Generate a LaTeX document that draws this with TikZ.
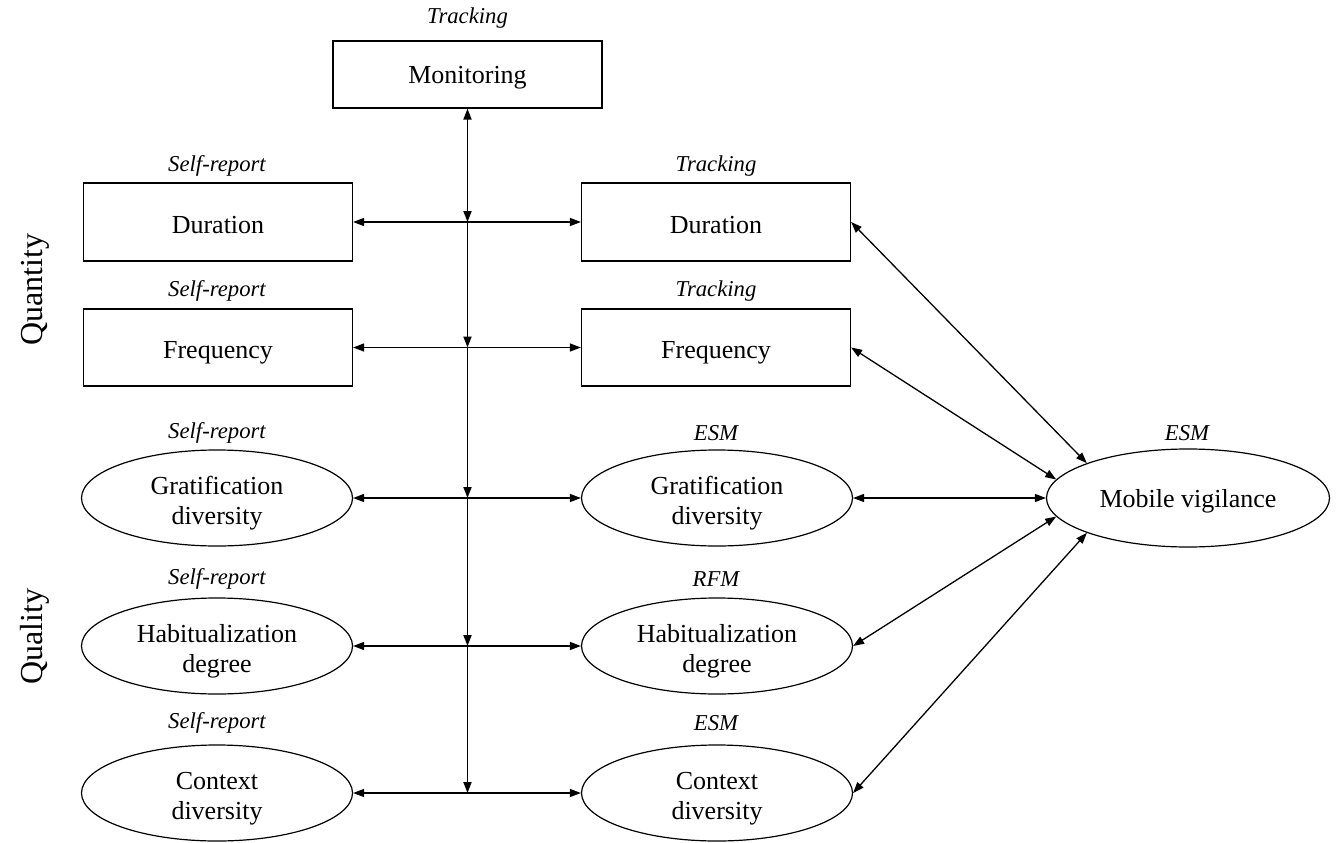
\documentclass[tikz,border=0pt]{standalone}
\usepackage{fontspec}
\setmainfont{Liberation Serif}
\usetikzlibrary{shapes.geometric,arrows.meta}

\begin{document}
\begin{tikzpicture}[x=1pt,y=-1pt,
  box/.style={draw,line width=1.2pt,minimum width=269pt,minimum height=78pt,inner sep=0pt,font=\fontsize{26}{30}\selectfont,align=center,text height=22pt,text depth=0pt},
  ell/.style={draw,ellipse,line width=1.2pt,minimum width=271pt,minimum height=96pt,inner sep=0pt,font=\fontsize{26}{30}\selectfont,align=center,text height=58pt,text depth=5.6pt},
  lab/.style={font=\fontsize{22.7}{26}\selectfont\itshape,inner sep=0pt},
  side/.style={font=\fontsize{32}{38}\selectfont,rotate=90,inner sep=0pt},
  dbl/.style={{Triangle[length=11pt,width=8pt]}-{Triangle[length=11pt,width=8pt]},line width=1.3pt},
  vseg/.style={-{Triangle[length=11pt,width=8pt]},line width=1.8pt},
  vfirst/.style={{Triangle[length=11pt,width=8pt]}-{Triangle[length=11pt,width=8pt]},line width=1.8pt}
]
\useasboundingbox (0,0) rectangle (1336,843);

% side labels
\node[side] (qn) at (35,290) {Quantity};
\node[side] (ql) at (35,637) {Quality};

% monitoring
\node[box,minimum height=67pt,text depth=5pt] (mon) at (467.5,74.5) {Monitoring};
\node[lab] (lmon) at (467.5,18) {Tracking};

% left column
\node[box] (Ld) at (218,222) {Duration};
\node[box,minimum height=77pt] (Lf) at (218,347.5) {Frequency};
\node[ell] (Lg) at (217,498) {Gratification\\diversity};
\node[ell] (Lh) at (217,646) {Habitualization\\degree};
\node[ell] (Lc) at (217,793) {Context\\diversity};

\node[lab] (lLd) at (217,166) {Self-report};
\node[lab] (lLf) at (217,291) {Self-report};
\node[lab] (lLg) at (217,433) {Self-report};
\node[lab] (lLh) at (217,579) {Self-report};
\node[lab] (lLc) at (217,723) {Self-report};

% right column
\node[box] (Rd) at (716,222) {Duration};
\node[box,minimum height=77pt] (Rf) at (716,347.5) {Frequency};
\node[ell] (Rg) at (717,498) {Gratification\\diversity};
\node[ell] (Rh) at (717,646) {Habitualization\\degree};
\node[ell] (Rc) at (717,793) {Context\\diversity};

\node[lab] (lRd) at (716,166) {Tracking};
\node[lab] (lRf) at (716,291) {Tracking};
\node[lab] (lRg) at (716,433) {ESM};
\node[lab] (lRh) at (716,579) {RFM};
\node[lab] (lRc) at (716,723) {ESM};

% mobile vigilance
\node[ell,minimum width=283pt,minimum height=98pt,text height=23.6pt,text depth=5.6pt] (mv) at (1188,498) {Mobile vigilance};
\node[lab] (lmv) at (1187,433) {ESM};

% vertical monitoring line
\coordinate (c1) at (467.5,222);
\coordinate (c2) at (467.5,347.5);
\coordinate (c3) at (467.5,498);
\coordinate (c4) at (467.5,646);
\coordinate (c5) at (467.5,793);
\draw[vfirst] (mon.south) -- (c1);
\draw[vseg] (c1) -- (c2);
\draw[vseg] (c2) -- (c3);
\draw[vseg] (c3) -- (c4);
\draw[vseg] (c4) -- (c5);

% horizontal links
\draw[dbl] (Ld.east) -- (Rd.west);
\draw[dbl] (Lf.east) -- (Rf.west);
\draw[dbl] (Lg.east) -- (Rg.west);
\draw[dbl] (Lh.east) -- (Rh.west);
\draw[dbl] (Lc.east) -- (Rc.west);

% links to mobile vigilance
\draw[dbl] (Rd.east) -- (mv.161);
\draw[dbl] (Rf.east) -- (mv.172.5);
\draw[dbl] (Rg.east) -- (mv.west);
\draw[dbl] (Rh.east) -- (mv.188.5);
\draw[dbl] (Rc.east) -- (mv.199.5);
\end{tikzpicture}
\end{document}
